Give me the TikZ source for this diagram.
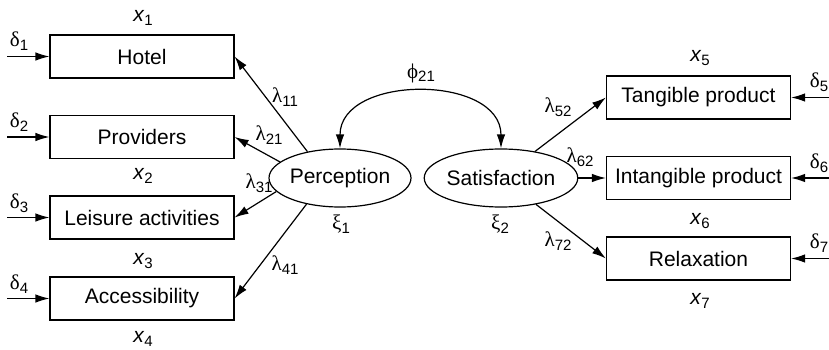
\documentclass[tikz,border=0pt]{standalone}
\usepackage{fontspec}
\setmainfont{Liberation Sans}
\newfontfamily\grk{Liberation Serif}
\usetikzlibrary{arrows.meta,shapes.geometric}
\newcommand\subtxt[1]{\raisebox{-0.35ex}{\fontsize{15}{15}\selectfont #1}}
\newcommand\gl[2]{{\grk #1}\subtxt{#2}}
\newcommand\xl[1]{\textit{x}\subtxt{#1}}
\tikzset{
  obs/.style={draw, line width=1.2pt, minimum width=184pt, minimum height=43pt, inner sep=0pt, font=\fontsize{21}{21}\selectfont},
  lat/.style={draw, ellipse, line width=1.2pt, minimum width=125pt, minimum height=58pt, inner sep=0pt, font=\fontsize{21}{21}\selectfont},
  lbl/.style={inner sep=0pt, font=\fontsize{21}{21}\selectfont},
  arr/.style={line width=1.2pt, -{Latex[length=14pt,width=8.5pt]}},
  darr/.style={line width=1.2pt, {Latex[length=14pt,width=8.5pt]}-{Latex[length=14pt,width=8.5pt]}}
}
\begin{document}
\begin{tikzpicture}[x=1pt,y=-1pt]
\useasboundingbox (0,0) rectangle (829,350);
% observed indicators
\node[obs] (hot) at (142,56.5) {Hotel};
\node[obs] (pro) at (142,137) {Providers};
\node[obs] (lei) at (142,217.5) {Leisure activities};
\node[obs] (acc) at (142,298.5) {Accessibility};
\node[obs] (tan) at (698.5,97.5) {Tangible product};
\node[obs] (int) at (698.5,178) {Intangible product};
\node[obs] (rel) at (698.5,258.5) {Relaxation};
% latent constructs
\node[lat] (per) at (340,178) {Perception};
\node[lat] (sat) at (501,178) {Satisfaction};
% error terms
\coordinate (d1) at (7,56.5);
\coordinate (d2) at (7,137);
\coordinate (d3) at (7,217.5);
\coordinate (d4) at (7,298.5);
\coordinate (d5) at (829,97.5);
\coordinate (d6) at (829,178);
\coordinate (d7) at (829,258.5);
\draw[arr] (d1) -- (hot);
\draw[arr] (d2) -- (pro);
\draw[arr] (d3) -- (lei);
\draw[arr] (d4) -- (acc);
\draw[arr] (d5) -- (tan);
\draw[arr] (d6) -- (int);
\draw[arr] (d7) -- (rel);
\node[lbl] (e1) at (19,41) {\gl{δ}{1}};
\node[lbl] (e2) at (19,122) {\gl{δ}{2}};
\node[lbl] (e3) at (19,203) {\gl{δ}{3}};
\node[lbl] (e4) at (19,284) {\gl{δ}{4}};
\node[lbl] (e5) at (819,82) {\gl{δ}{5}};
\node[lbl] (e6) at (819,163) {\gl{δ}{6}};
\node[lbl] (e7) at (819,243) {\gl{δ}{7}};
% loadings
\draw[arr] (per.141) -- (hot.east);
\draw[arr] (per.165) -- (pro.east);
\draw[arr] (per.192) -- (lei.east);
\draw[arr] (per.218) -- (acc.east);
\draw[arr] (sat.38) -- (tan.west);
\draw[arr] (sat.east) -- (int.west);
\draw[arr] (sat.-37) -- (rel.west);
\node[lbl] (l11) at (285,97) {\gl{λ}{11}};
\node[lbl] (l21) at (269,135) {\gl{λ}{21}};
\node[lbl] (l31) at (259,183) {\gl{λ}{31}};
\node[lbl] (l41) at (285,265) {\gl{λ}{41}};
\node[lbl] (l52) at (558,107) {\gl{λ}{52}};
\node[lbl] (l62) at (580,157) {\gl{λ}{62}};
\node[lbl] (l72) at (558,241) {\gl{λ}{72}};
% correlation between constructs
\draw[darr] (per.north) .. controls (340,74) and (501,74) .. (sat.north);
\node[lbl] (phi) at (421,73) {\gl{ϕ}{21}};
\node[lbl] (k1) at (341,224) {\gl{ξ}{1}};
\node[lbl] (k2) at (500,224) {\gl{ξ}{2}};
% indicator names
\node[lbl] (n1) at (143,18) {\xl{1}};
\node[lbl] (n2) at (143,176) {\xl{2}};
\node[lbl] (n3) at (143,261) {\xl{3}};
\node[lbl] (n4) at (143,339) {\xl{4}};
\node[lbl] (n5) at (700,58) {\xl{5}};
\node[lbl] (n6) at (700,221) {\xl{6}};
\node[lbl] (n7) at (700,301) {\xl{7}};
\end{tikzpicture}
\end{document}
